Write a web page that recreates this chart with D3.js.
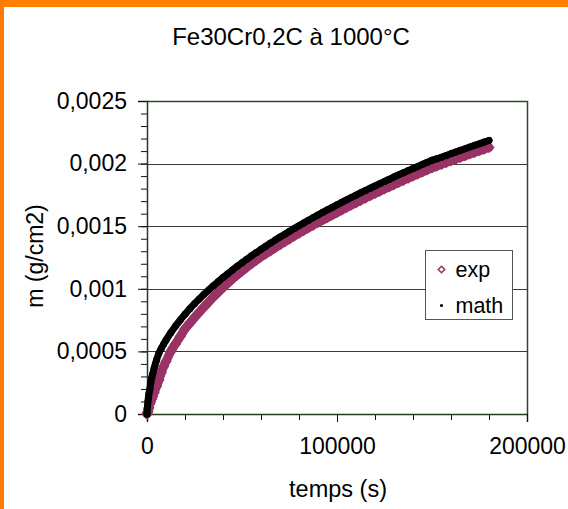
<!DOCTYPE html>
<html>
<head>
<meta charset="utf-8">
<script src="https://cdn.jsdelivr.net/npm/d3@7"></script>
<style>
    body { margin: 0; background: #fff; }
    #vis { width: 568px; height: 509px; }
    text { font-family: "Liberation Sans", Arial, sans-serif; fill: #000; }
</style>
</head>
<body>
<div id="vis"></div>
<script>
// time points (s)
var temps = [0, 250, 500, 750, 1000, 1500, 2000, 2500, 3000, 3750, 5000, 6250, 7500, 8750, 10000,
    12500, 15000, 17500, 20000, 22500, 25000, 27500, 30000, 32500, 35000, 37500, 40000,
    42500, 45000, 47500, 50000, 52500, 55000, 57500, 60000, 62500, 65000, 67500, 70000,
    72500, 75000, 77500, 80000, 82500, 85000, 87500, 90000, 92500, 95000, 97500, 100000,
    102500, 105000, 107500, 110000, 112500, 115000, 117500, 120000, 122500, 125000, 127500, 130000,
    132500, 135000, 137500, 140000, 142500, 145000, 147500, 150000, 152500, 155000, 157500, 160000,
    162500, 165000, 167500, 170000, 172500, 175000, 177500, 180000];

// measured mass gain (g/cm2)
var exp = [0, 0.00001, 0.00002, 0.00004, 0.00005, 0.00008, 0.0001, 0.00012, 0.00014, 0.00017, 0.00022, 0.00027, 0.00033, 0.00038, 0.00042,
    0.0005, 0.00056, 0.00062, 0.00068, 0.000725, 0.00077, 0.000813, 0.000855, 0.000895, 0.000935, 0.000973, 0.00101,
    0.001045, 0.001079, 0.001111, 0.001142, 0.001173, 0.001202, 0.001229, 0.001256, 0.00128, 0.001305, 0.001329, 0.001353,
    0.001376, 0.001399, 0.001422, 0.001444, 0.001466, 0.001488, 0.001509, 0.00153, 0.00155, 0.00157, 0.00159, 0.00161,
    0.00163, 0.00165, 0.001669, 0.001688, 0.001707, 0.001726, 0.001744, 0.001762, 0.00178, 0.001798, 0.001815, 0.001833,
    0.00185, 0.001867, 0.001884, 0.001901, 0.001917, 0.001934, 0.00195, 0.001966, 0.001981, 0.001995, 0.002009, 0.002023,
    0.002037, 0.00205, 0.002063, 0.002077, 0.00209, 0.002103, 0.002116, 0.002129];

// model (g/cm2)
var math = [0, 0.00006, 0.0001, 0.00013, 0.00016, 0.0002, 0.00025, 0.00029, 0.00032, 0.000365, 0.00043, 0.000485, 0.000523, 0.000558, 0.00059,
    0.000649, 0.000702, 0.000751, 0.000797, 0.00084, 0.000881, 0.000919, 0.000956, 0.000991, 0.001025, 0.001058, 0.00109,
    0.001121, 0.001151, 0.00118, 0.001208, 0.001236, 0.001263, 0.001289, 0.001315, 0.00134, 0.001365, 0.001389, 0.001413,
    0.001436, 0.001459, 0.001482, 0.001504, 0.001526, 0.001548, 0.001569, 0.00159, 0.001611, 0.001631, 0.001651, 0.001671,
    0.001691, 0.00171, 0.001729, 0.001748, 0.001767, 0.001786, 0.001804, 0.001822, 0.00184, 0.001858, 0.001875, 0.001893,
    0.00191, 0.001927, 0.001944, 0.001961, 0.001977, 0.001994, 0.00201, 0.002026, 0.002038, 0.002051, 0.002065, 0.002079,
    0.002093, 0.002106, 0.002119, 0.002133, 0.002146, 0.002159, 0.002172, 0.002185];

var yTicks = [0, 0.0005, 0.001, 0.0015, 0.002, 0.0025];
var yTickLabels = ['0', '0,0005', '0,001', '0,0015', '0,002', '0,0025'];
var xTicks = [0, 100000, 200000];
var xTickLabels = ['0', '100000', '200000'];
var seriesNames = ['exp', 'math'];

var width = 568, height = 509;
var margin = { top: 101, bottom: 95, left: 147, right: 41 };

var root = d3.select('#vis')
    .append('svg')
    .attr('width', width)
    .attr('height', height);

// orange frame of the original picture
root.append('rect').attr('x', 0).attr('y', 0).attr('width', width).attr('height', 7).attr('fill', '#ff8000');
root.append('rect').attr('x', 0).attr('y', 0).attr('width', 4).attr('height', height).attr('fill', '#ff7a00');

var w = width - margin.left - margin.right;
var h = height - margin.top - margin.bottom;

var svg = root.append('g')
    .attr('transform', 'translate(' + margin.left + ',' + margin.top + ')');

var x_scale = d3.scaleLinear().domain([0, 200000]).range([0, w]);
var y_scale = d3.scaleLinear().domain([0, 0.0025]).range([h, 0]);

// gridlines
svg.selectAll('.grid')
    .data(yTicks.slice(1))
    .enter()
    .append('line')
    .attr('class', 'grid')
    .attr('x1', 0)
    .attr('x2', w)
    .attr('y1', function (d) { return Math.round(y_scale(d)) + 0.5; })
    .attr('y2', function (d) { return Math.round(y_scale(d)) + 0.5; })
    .attr('stroke', '#3a3a3a')
    .attr('stroke-width', 1);

// plot frame (top + right)
svg.append('path')
    .attr('d', 'M0,0.5H' + (w + 0.5) + 'V' + h)
    .attr('fill', 'none')
    .attr('stroke', '#2a4a2a')
    .attr('stroke-width', 1.5);

// minor ticks
var y_minor = d3.axisLeft(y_scale).tickValues(d3.range(0, 0.00251, 0.0001)).tickSize(6).tickFormat('');
var x_minor = d3.axisBottom(x_scale).tickValues(d3.range(0, 200001, 20000)).tickSize(6).tickFormat('');

var y_axis = d3.axisLeft(y_scale)
    .tickValues(yTicks)
    .tickSize(9)
    .tickPadding(11)
    .tickFormat(function (d, i) { return yTickLabels[i]; });

var x_axis = d3.axisBottom(x_scale)
    .tickValues(xTicks)
    .tickSize(8)
    .tickPadding(16)
    .tickFormat(function (d, i) { return xTickLabels[i]; });

svg.append('g').attr('class', 'y minor').call(y_minor);
svg.append('g').attr('class', 'x minor').attr('transform', 'translate(0,' + h + ')').call(x_minor);

svg.append('g').attr('class', 'y axis').call(y_axis);
svg.append('g').attr('class', 'x axis').attr('transform', 'translate(0,' + h + ')').call(x_axis);

svg.selectAll('.axis .domain').attr('stroke', '#1f3d1f').attr('stroke-width', 1.5);
svg.selectAll('.minor .domain').remove();
svg.selectAll('.tick line').attr('stroke', '#111');
svg.selectAll('.axis text')
    .style('font-family', '"Liberation Sans", Arial, sans-serif')
    .style('font-size', '23px')
    .attr('fill', '#000');

var points = temps.map(function (t, i) {
    return { t: t, exp: exp[i], math: math[i] };
});

// the dense markers of the original merge into a band
function band(key) {
    return d3.line()
        .x(function (d) { return x_scale(d.t); })
        .y(function (d) { return y_scale(d[key]); })
        .curve(d3.curveMonotoneX);
}

var diamond = d3.symbol().type(d3.symbolDiamond2).size(40);

// exp series: open diamonds
svg.append('path')
    .datum(points)
    .attr('d', band('exp'))
    .attr('fill', 'none')
    .attr('stroke', '#993366')
    .attr('stroke-width', 9)
    .attr('stroke-linejoin', 'round')
    .attr('stroke-linecap', 'round');

svg.selectAll('.exp')
    .data(points)
    .enter()
    .append('path')
    .attr('class', 'exp')
    .attr('d', diamond)
    .attr('transform', function (d) {
        return 'translate(' + x_scale(d.t) + ',' + y_scale(d.exp) + ')';
    })
    .attr('fill', 'none')
    .attr('stroke', '#993366')
    .attr('stroke-width', 2.4);

// math series: black dots
svg.append('path')
    .datum(points)
    .attr('d', band('math'))
    .attr('fill', 'none')
    .attr('stroke', '#000')
    .attr('stroke-width', 7)
    .attr('stroke-linejoin', 'round')
    .attr('stroke-linecap', 'round');

svg.selectAll('.math')
    .data(points)
    .enter()
    .append('circle')
    .attr('class', 'math')
    .attr('cx', function (d) { return x_scale(d.t); })
    .attr('cy', function (d) { return y_scale(d.math); })
    .attr('r', 3.5)
    .attr('fill', '#000');

// title + axis titles
root.append('text')
    .attr('x', 291)
    .attr('y', 45)
    .attr('text-anchor', 'middle')
    .style('font-size', '24px')
    .text('Fe30Cr0,2C à 1000°C');

root.append('text')
    .attr('transform', 'translate(43,256) rotate(-90)')
    .attr('text-anchor', 'middle')
    .style('font-size', '23px')
    .text('m (g/cm2)');

root.append('text')
    .attr('x', 338)
    .attr('y', 497)
    .attr('text-anchor', 'middle')
    .style('font-size', '23.5px')
    .text('temps (s)');

// legend
var legend = root.append('g').attr('transform', 'translate(425.5,250.5)');
legend.append('rect')
    .attr('width', 87)
    .attr('height', 69)
    .attr('fill', '#fff')
    .attr('stroke', '#555')
    .attr('stroke-width', 1);

var items = legend.selectAll('.item')
    .data(seriesNames)
    .enter()
    .append('g')
    .attr('class', 'item')
    .attr('transform', function (d, i) { return 'translate(0,' + (19 + i * 36) + ')'; });

items.append('path')
    .attr('d', function (d) {
        return d === 'exp' ? d3.symbol().type(d3.symbolDiamond2).size(26)() : d3.symbol().type(d3.symbolCircle).size(8)();
    })
    .attr('transform', 'translate(16,0)')
    .attr('fill', function (d) { return d === 'exp' ? 'none' : '#000'; })
    .attr('stroke', function (d) { return d === 'exp' ? '#993366' : 'none'; })
    .attr('stroke-width', 1.6);

items.append('text')
    .attr('x', 30)
    .attr('y', 7)
    .style('font-size', '21.5px')
    .text(function (d) { return d; });
</script>
</body>
</html>
